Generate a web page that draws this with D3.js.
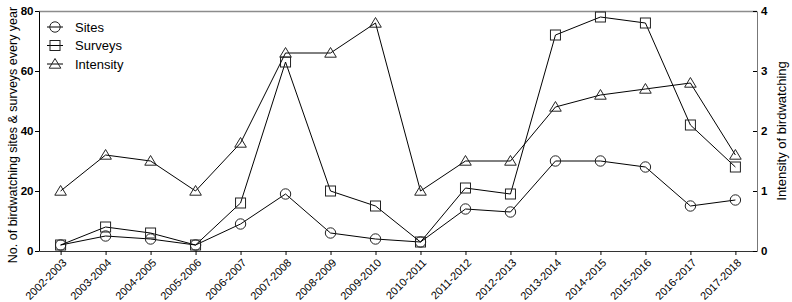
<!DOCTYPE html>
<html lang="en">
<head>
<meta charset="utf-8">
<script src="https://d3js.org/d3.v7.min.js"></script>
<style>
  body { margin: 0; background: #fff; }
  text { font-family: "Liberation Sans", Arial, sans-serif; }
</style>
</head>
<body>
<div class="chartDiv"></div>
<script>
var seasons = ["2002-2003","2003-2004","2004-2005","2005-2006","2006-2007","2007-2008","2008-2009","2009-2010",
               "2010-2011","2011-2012","2012-2013","2013-2014","2014-2015","2015-2016","2016-2017","2017-2018"];
var sites     = [2, 5, 4, 2, 9, 19, 6, 4, 3, 14, 13, 30, 30, 28, 15, 17];
var surveys   = [2, 8, 6, 2, 16, 63, 20, 15, 3, 21, 19, 72, 78, 76, 42, 28];
var intensity = [1.0, 1.6, 1.5, 1.0, 1.8, 3.3, 3.3, 3.8, 1.0, 1.5, 1.5, 2.4, 2.6, 2.7, 2.8, 1.6];
var leftTicks  = [0, 20, 40, 60, 80];
var rightTicks = [0, 1, 2, 3, 4];

var w = 792, h = 302;
var pLeft = 39, pRight = 757, pTop = 11, pBottom = 251;

var svg = d3.select(".chartDiv").append("svg")
  .attr("width", w).attr("height", h);

var x = d3.scalePoint().domain(seasons).range([pLeft, pRight]).padding(0.48);
var y = d3.scaleLinear().domain([0, 80]).range([pBottom, pTop]);
var y2 = d3.scaleLinear().domain([0, 4]).range([pBottom, pTop]);

// frame top
svg.append("line")
  .attr("x1", pLeft).attr("x2", pRight).attr("y1", pTop + 0.5).attr("y2", pTop + 0.5)
  .attr("stroke", "#8c8c8c").attr("stroke-width", 1.5);

var gx = svg.append("g").attr("transform", "translate(0," + pBottom + ")")
  .call(d3.axisBottom(x).tickSizeInner(4).tickSizeOuter(0));
gx.selectAll("text")
  .attr("transform", "rotate(-45)")
  .style("text-anchor", "end")
  .attr("dx", "-0.4em").attr("dy", "0.55em")
  .style("font-size", "11px").attr("fill", "#000");

var gy = svg.append("g").attr("transform", "translate(" + pLeft + ",0)")
  .call(d3.axisLeft(y).tickValues(leftTicks).tickSizeInner(4).tickSizeOuter(0).tickPadding(1.5));
gy.selectAll("text").style("font-size", "11.5px").style("font-weight", "bold").attr("fill", "#000");

var gy2 = svg.append("g").attr("transform", "translate(" + pRight + ",0)")
  .call(d3.axisRight(y2).tickValues(rightTicks).tickFormat(d3.format("d"))
    .tickSizeInner(-4).tickSizeOuter(0).tickPadding(4));
gy2.selectAll("text").style("font-size", "11.5px").style("font-weight", "bold").attr("fill", "#000");
gy2.select(".domain").attr("stroke", "#777");
gx.select(".domain").attr("stroke", "#333");

svg.append("text")
  .attr("transform", "translate(17,135) rotate(-90)")
  .attr("text-anchor", "middle")
  .style("font-size", "12.5px")
  .text("No. of birdwatching sites & surveys every year");

svg.append("text")
  .attr("transform", "translate(786," + ((pTop + pBottom) / 2) + ") rotate(-90)")
  .attr("text-anchor", "middle")
  .style("font-size", "13px")
  .text("Intensity of birdwatching");

function drawMarker(g, shape) {
  if (shape == "circle") {
    g.append("circle").attr("r", 5.2);
  } else if (shape == "square") {
    g.append("rect").attr("x", -5).attr("y", -5).attr("width", 10).attr("height", 10);
  } else {
    g.append("path").attr("d", "M0,-5.5L5.8,4.2L-5.8,4.2Z");
  }
}

var series = [
  { name: "Sites", values: sites, scale: y, shape: "circle" },
  { name: "Surveys", values: surveys, scale: y, shape: "square" },
  { name: "Intensity", values: intensity, scale: y2, shape: "triangle" }
];

series.forEach(function(s) {
  var line = d3.line()
    .x(function(d, i) { return x(seasons[i]); })
    .y(function(d) { return s.scale(d); });
  svg.append("path")
    .datum(s.values)
    .attr("d", line)
    .attr("fill", "none")
    .attr("stroke", "#000")
    .attr("stroke-width", 1);
  svg.selectAll("g.m-" + s.shape)
    .data(s.values)
    .enter().append("g")
    .attr("class", "m-" + s.shape)
    .attr("transform", function(d, i) { return "translate(" + x(seasons[i]) + "," + s.scale(d) + ")"; })
    .each(function() { drawMarker(d3.select(this), s.shape); })
    .selectAll("*")
    .attr("fill", "none")
    .attr("stroke", "#222")
    .attr("stroke-width", 1);
});

// legend
var legend = svg.selectAll("g.legend")
  .data(series)
  .enter().append("g")
  .attr("class", "legend")
  .attr("transform", function(d, i) { return "translate(55," + (27 + i * 18.5) + ")"; });

legend.append("line")
  .attr("x1", -8).attr("x2", 8)
  .attr("stroke", "#000").attr("stroke-width", 1);
legend.each(function(d) { drawMarker(d3.select(this), d.shape); });
legend.selectAll("circle, rect, path")
  .attr("fill", "none").attr("stroke", "#222").attr("stroke-width", 1);
legend.append("text")
  .attr("x", 20).attr("dy", "0.36em")
  .style("font-size", "13px")
  .text(function(d) { return d.name; });
</script>
</body>
</html>
